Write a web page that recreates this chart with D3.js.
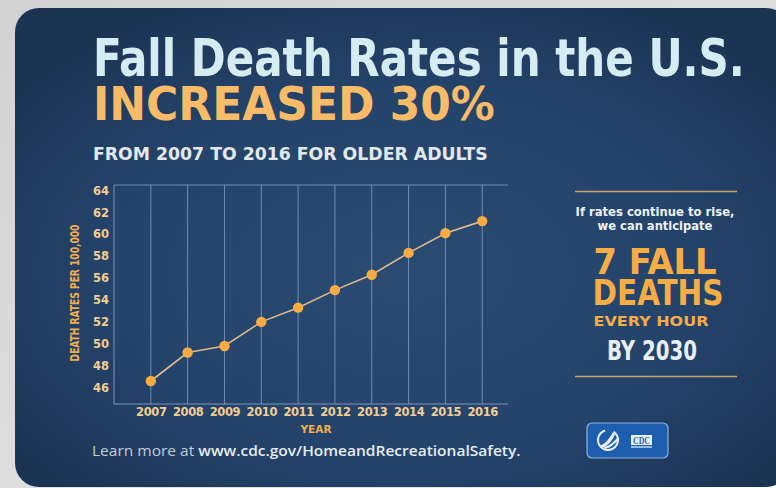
<!DOCTYPE html>
<html>
<head>
<meta charset="utf-8">
<script src="https://cdn.jsdelivr.net/npm/d3@7"></script>
<style>
html,body{margin:0;padding:0;background:#dcdcdc;}
svg{display:block;}
</style>
</head>
<body>
<svg id="chart" width="776" height="488"></svg>
<script>
// ---- data ----
const years = [2007, 2008, 2009, 2010, 2011, 2012, 2013, 2014, 2015, 2016];
const rates = [46.6, 49.2, 49.8, 52.0, 53.3, 54.9, 56.3, 58.3, 60.1, 61.2];
const yTicks = [46, 48, 50, 52, 54, 56, 58, 60, 62, 64];
const titleLine = "Fall Death Rates in the U.S.";
const headline = "INCREASED 30%";
const subline = "FROM 2007 TO 2016 FOR OLDER ADULTS";
const yTitle = "DEATH RATES PER 100,000";
const xTitle = "YEAR";
const footer = ["Learn more at ", "www.cdc.gov/HomeandRecreationalSafety."];
const sideText = ["If rates continue to rise,", "we can anticipate", "7 FALL", "DEATHS", "EVERY HOUR", "BY 2030"];

const svg = d3.select("#chart");
const defs = svg.append("defs");

const fg = defs.append("linearGradient").attr("id","frame").attr("x1",0).attr("y1",0).attr("x2",1).attr("y2",1);
fg.append("stop").attr("offset","0%").attr("stop-color","#d2d2d2");
fg.append("stop").attr("offset","80%").attr("stop-color","#e4e4e4");
fg.append("stop").attr("offset","100%").attr("stop-color","#ffffff");
svg.append("rect").attr("width",776).attr("height",488).attr("fill","url(#frame)");

const rg = defs.append("radialGradient").attr("id","card").attr("cx","50%").attr("cy","55%").attr("r","65%");
rg.append("stop").attr("offset","0%").attr("stop-color","#2a4b72");
rg.append("stop").attr("offset","60%").attr("stop-color","#24436a");
rg.append("stop").attr("offset","100%").attr("stop-color","#1b3352");
svg.append("rect").attr("x",15).attr("y",8).attr("width",775).attr("height",479)
  .attr("rx",24).attr("ry",24).attr("fill","url(#card)");

const narrow = "'Liberation Sans Narrow','DejaVu Sans Condensed','Arial Narrow',sans-serif";

// text fitted to a width by horizontal scaling (anchor: "start" or "middle")
function fitText(parent, str, ax, by, width, anchor, opts) {
  const t = parent.append("text").text(str).attr("x",0).attr("y",0)
    .attr("font-family",opts.font).attr("font-weight",opts.weight||"bold")
    .attr("font-size",opts.size).attr("fill",opts.fill).attr("text-anchor",anchor);
  const nat = t.node().getComputedTextLength() || width;
  const s = width / nat;
  t.attr("transform",`translate(${ax},${by}) scale(${s},1)`);
  return t;
}

// headings
fitText(svg, titleLine, 93, 76, 652, "start", {font:narrow, size:51, fill:"#d5edf2"});
fitText(svg, headline, 93, 120, 402, "start", {font:narrow, size:46, fill:"#f8bb68"});
fitText(svg, subline, 93, 160, 395, "start", {font:narrow, size:18, fill:"#e3e8ec"});

// ---- chart ----
const x = d3.scaleLinear().domain([2006, 2016.7]).range([114, 508]);
const y = d3.scaleLinear().domain([44.5, 64.5]).range([404, 185]);
const gridCol = "#8aa6c4";

const g = svg.append("g");
g.selectAll("line.v").data(years).join("line")
  .attr("x1",d=>x(d)).attr("x2",d=>x(d)).attr("y1",y(64.5)).attr("y2",y(44.5))
  .attr("stroke",gridCol).attr("stroke-opacity",0.75).attr("stroke-width",1);
g.append("line").attr("x1",x(2006)).attr("x2",x(2016.7)).attr("y1",y(64.5)).attr("y2",y(64.5))
  .attr("stroke",gridCol).attr("stroke-opacity",0.75);
g.append("line").attr("x1",x(2006)).attr("x2",x(2006)).attr("y1",y(64.5)).attr("y2",y(44.5))
  .attr("stroke",gridCol).attr("stroke-opacity",0.85);
g.append("line").attr("x1",x(2006)).attr("x2",x(2016.7)).attr("y1",y(44.5)).attr("y2",y(44.5))
  .attr("stroke",gridCol).attr("stroke-opacity",0.85);

const yAxis = d3.axisLeft(y).tickValues(yTicks).tickSize(0).tickPadding(5);
const ya = svg.append("g").attr("transform",`translate(${x(2006)},0)`).call(yAxis);
ya.select(".domain").remove();
ya.selectAll("text").attr("font-family","'DejaVu Sans',sans-serif").attr("font-weight","bold")
  .attr("font-size",11.5).attr("fill","#f2cd92");

const xAxis = d3.axisBottom(x).tickValues(years).tickFormat(d3.format("d")).tickSize(0).tickPadding(4);
const xa = svg.append("g").attr("transform",`translate(0,${y(44.5)})`).call(xAxis);
xa.select(".domain").remove();
xa.selectAll("text").attr("font-family","'DejaVu Sans',sans-serif").attr("font-weight","bold")
  .attr("font-size",11.5).attr("letter-spacing",-0.4).attr("fill","#f2cd92");

// y title (rotated)
const yt = svg.append("g").attr("transform","translate(79,293) rotate(-90)");
fitText(yt, yTitle, 0, 0, 137, "middle", {font:narrow, size:12.5, fill:"#f2ad4c"});
svg.append("text").attr("x",316).attr("y",433).attr("text-anchor","middle").text(xTitle)
  .attr("font-family","'DejaVu Sans',sans-serif").attr("font-weight","bold").attr("font-size",10.5)
  .attr("fill","#f2ad4c");

const line = d3.line().x((d,i)=>x(years[i])).y(d=>y(d));
svg.append("path").datum(rates).attr("d",line).attr("fill","none")
  .attr("stroke","#dcbb8c").attr("stroke-width",1.6);
svg.selectAll("circle.pt").data(rates).join("circle")
  .attr("cx",(d,i)=>x(years[i])).attr("cy",d=>y(d)).attr("r",5.2).attr("fill","#f7ab42");

// footer
const ft = svg.append("text").attr("x",0).attr("y",0)
  .attr("font-family","'Open Sans','Liberation Sans',sans-serif").attr("font-size",14);
ft.append("tspan").text(footer[0]).attr("fill","#c3cdd8");
ft.append("tspan").text(footer[1]).attr("fill","#e6ecf1").attr("font-weight",600);
const ftLen = ft.node().getComputedTextLength() || 429;
ft.attr("transform",`translate(92,456) scale(${429/ftLen},1)`);

// ---- side panel ----
svg.append("line").attr("x1",575).attr("x2",737).attr("y1",191.5).attr("y2",191.5)
  .attr("stroke","#c8a36c").attr("stroke-width",1.5);
svg.append("line").attr("x1",575).attr("x2",737).attr("y1",376.5).attr("y2",376.5)
  .attr("stroke","#c8a36c").attr("stroke-width",1.5);

const dj = "'DejaVu Sans',sans-serif";
fitText(svg, sideText[0], 655, 216, 159, "middle", {font:dj, size:11.5, fill:"#eef2f5"});
fitText(svg, sideText[1], 655, 230, 115, "middle", {font:dj, size:11.5, fill:"#eef2f5"});
fitText(svg, sideText[2], 655, 274, 123, "middle", {font:narrow, size:35, fill:"#f7ad45"});
fitText(svg, sideText[3], 658, 305, 131, "middle", {font:narrow, size:36, fill:"#f7ad45"});
fitText(svg, sideText[4], 651, 326, 115, "middle", {font:dj, size:13.5, fill:"#f7ad45"});
fitText(svg, sideText[5], 652, 360, 90, "middle", {font:narrow, size:27, fill:"#e8eff5"});

// ---- CDC badge ----
const logo = svg.append("g");
logo.append("rect").attr("x",587).attr("y",423).attr("width",81).attr("height",35).attr("rx",5)
  .attr("fill","#1d5fae").attr("stroke","#8fb4dd").attr("stroke-width",1.2);
logo.append("path").attr("d",d3.arc()({innerRadius:9,outerRadius:11,startAngle:0.6,endAngle:2*Math.PI-0.3}))
  .attr("transform","translate(608,440)").attr("fill","#eaf1fa");
logo.append("path").attr("d","M600,446 C605,444 610,438 613,432 L615,434 C613,440 608,446 602,448 Z M604,447 C609,446 614,442 618,437 L619,439 C615,444 610,448 605,449 Z")
  .attr("fill","#eaf1fa");
logo.append("rect").attr("x",631).attr("y",435).attr("width",21).attr("height",10).attr("fill","#eaf1fa");
fitText(logo, "CDC", 641.5, 443.5, 17, "middle", {font:"'Liberation Serif',serif", size:9.5, fill:"#1d5fae"});
logo.append("rect").attr("x",631).attr("y",446).attr("width",21).attr("height",2).attr("fill","#9dbbe0");
</script>
</body>
</html>
